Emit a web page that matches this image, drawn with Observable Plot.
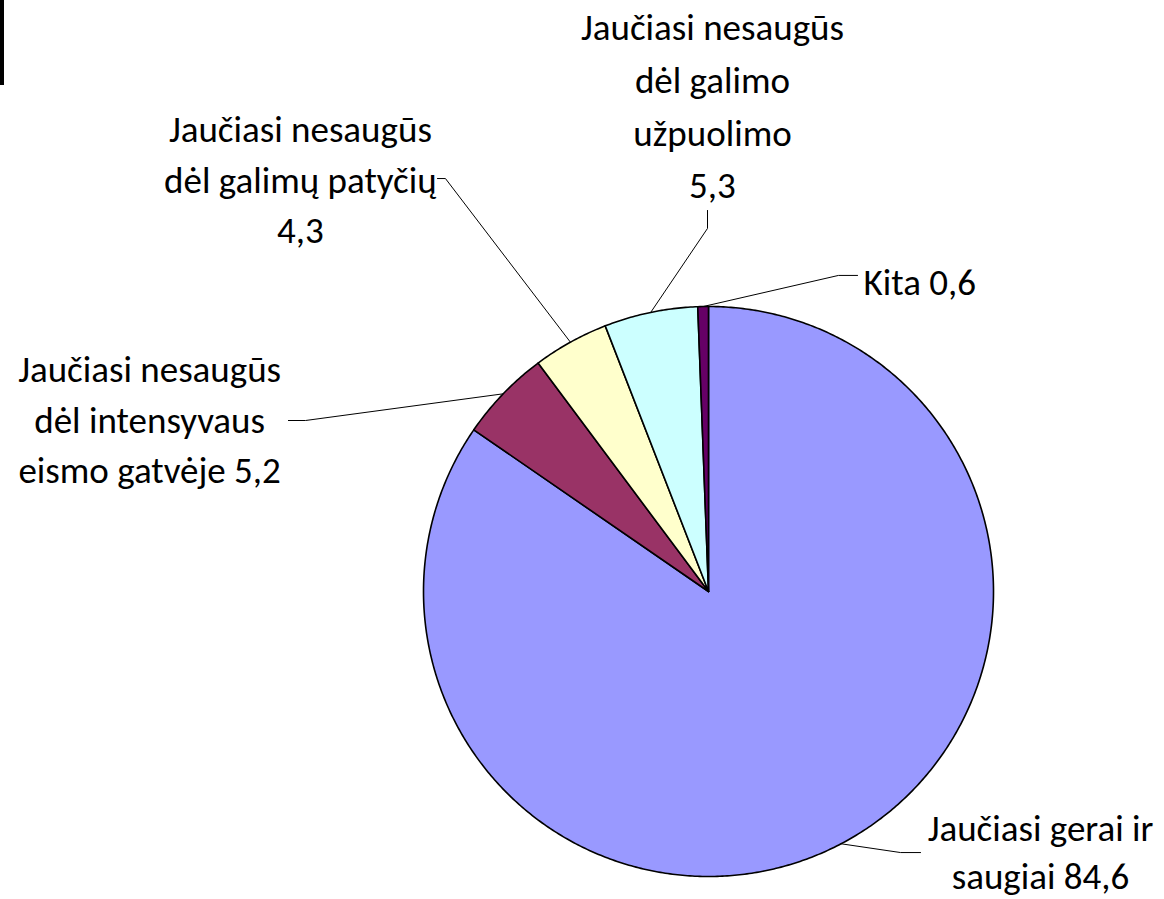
<!DOCTYPE html>
<html><head><meta charset="utf-8">
<script src="https://cdn.jsdelivr.net/npm/d3@7"></script>
<script src="https://cdn.jsdelivr.net/npm/@observablehq/plot@0.6"></script>
<style>
body{margin:0;background:#fff;}
#wrap{position:relative;width:1164px;height:899px;}
#bar{position:absolute;left:0;top:0;width:4px;height:85px;background:#000;}
</style>
</head><body>
<div id="wrap"><div id="bar"></div></div>
<script>
// Data (clockwise from 12 o'clock)
const categories = [
  "Jaučiasi gerai ir\nsaugiai 84,6",
  "Jaučiasi nesaugūs\ndėl intensyvaus\neismo gatvėje 5,2",
  "Jaučiasi nesaugūs\ndėl galimų patyčių\n4,3",
  "Jaučiasi nesaugūs\ndėl galimo\nužpuolimo\n5,3",
  "Kita 0,6"
];
const values = [84.6, 5.2, 4.3, 5.3, 0.6];
const colors = ["#9999FF", "#993366", "#FFFFCC", "#CCFFFF", "#660066"];

// Layout (label anchor, leader elbow, leader end) in pie-radius units
const labelPos = [[1.165, -0.905], [-1.961, 0.614], [-1.432, 1.456], [0.014, 1.716], [0.544, 1.094]];
const labelAnchor = ["middle", "middle", "middle", "middle", "start"];
const lineHeights = [1.3, 1.36, 1.36, 1.42, 1.3];
const elbows = [[0.674, -0.916], [-1.414, 0.6], [-0.923, 1.449], [-0.0035, 1.274], [0.456, 1.109]];
const ends = [[0.744, -0.916], [-1.474, 0.6], [-0.951, 1.449], [-0.0035, 1.337], [0.523, 1.109]];

const total = d3.sum(values);
let acc = 0;
const slices = values.map((v, i) => {
  const a0 = acc / total * 2 * Math.PI;
  acc += v;
  const a1 = acc / total * 2 * Math.PI;
  const n = Math.max(2, Math.ceil((a1 - a0) / (Math.PI / 360)));
  const pts = [{x: 0, y: 0}];
  for (let k = 0; k <= n; k++) {
    const a = a0 + (a1 - a0) * k / n;
    pts.push({x: Math.sin(a), y: Math.cos(a)});
  }
  pts.push({x: 0, y: 0});
  const am = (a0 + a1) / 2;
  return {i, pts, mid: {x: Math.sin(am), y: Math.cos(am)}};
});

const leaders = slices.flatMap(s => [
  {k: s.i, x: s.mid.x, y: s.mid.y},
  {k: s.i, x: elbows[s.i][0], y: elbows[s.i][1]},
  {k: s.i, x: ends[s.i][0], y: ends[s.i][1]}
]);

const labels = categories.map((c, i) => ({text: c, x: labelPos[i][0], y: labelPos[i][1], anchor: labelAnchor[i], lh: lineHeights[i]}));

const plot = Plot.plot({
  width: 1164, height: 899,
  marginLeft: 423, marginRight: 171, marginTop: 306, marginBottom: 23,
  x: {domain: [-1, 1], axis: null},
  y: {domain: [-1, 1], axis: null},
  style: {background: "transparent", fontFamily: "Carlito, Lato, sans-serif"},
  marks: [
    ...slices.map(s => Plot.line(s.pts, {x: "x", y: "y", fill: colors[s.i], stroke: "#000", strokeWidth: 1.6, strokeLinejoin: "round"})),
    Plot.line(leaders, {x: "x", y: "y", z: "k", stroke: "#000", strokeWidth: 1}),
    ...labels.map(d => Plot.text([d], {x: "x", y: "y", text: "text", textAnchor: d.anchor, lineAnchor: "middle", lineHeight: d.lh, fontSize: 37, fill: "#000"}))
  ]
});
document.getElementById("wrap").appendChild(plot);
</script>
</body></html>
